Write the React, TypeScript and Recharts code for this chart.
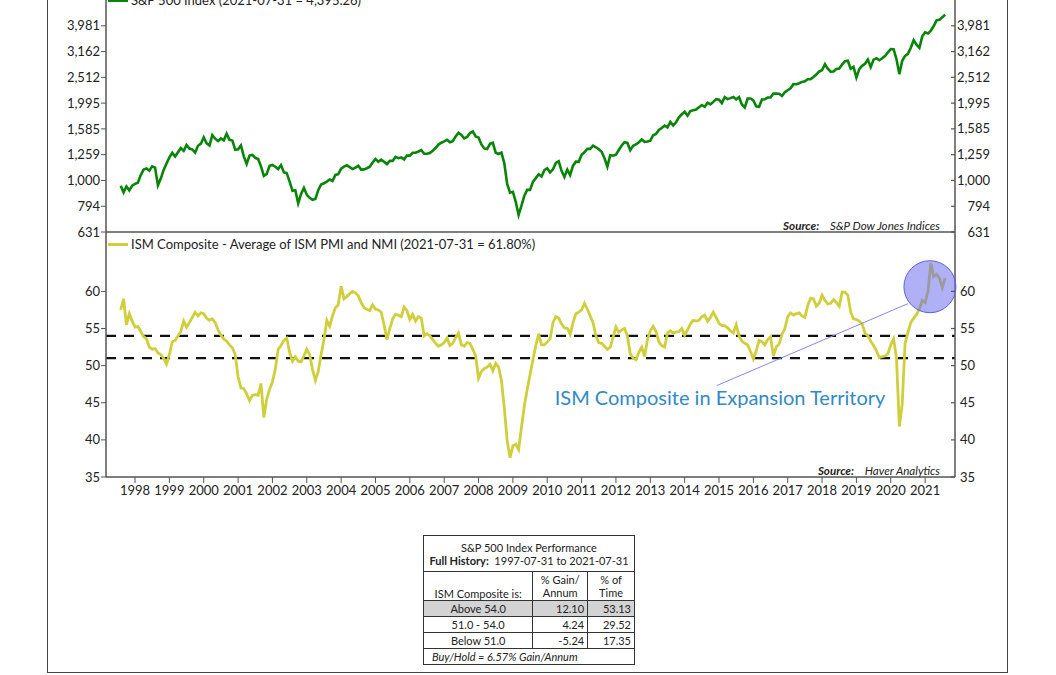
import React from 'react';
import { LineChart, Line, XAxis, YAxis, ReferenceLine, ReferenceDot } from 'recharts';

// month-end observations, first one is 1997-07-31
const START_YEAR = 1997;
const START_MONTH = 7;

const spx = [
  954, 899, 947, 915, 955, 970,
  980, 1049, 1102, 1112, 1091, 1134, 1121, 957, 1017, 1099, 1164, 1229,
  1280, 1238, 1286, 1335, 1302, 1373, 1329, 1320, 1283, 1363, 1389, 1469,
  1394, 1366, 1499, 1452, 1421, 1455, 1431, 1518, 1437, 1429, 1315, 1320,
  1366, 1240, 1160, 1249, 1256, 1224, 1211, 1134, 1041, 1060, 1139, 1148,
  1130, 1107, 1147, 1077, 1067, 990, 912, 916, 815, 886, 936, 880,
  856, 841, 848, 917, 964, 975, 990, 1008, 996, 1051, 1058, 1112,
  1131, 1145, 1126, 1107, 1121, 1141, 1102, 1104, 1115, 1130, 1174, 1212,
  1181, 1204, 1181, 1157, 1192, 1191, 1234, 1220, 1229, 1207, 1249, 1248,
  1280, 1281, 1295, 1311, 1270, 1270, 1277, 1304, 1336, 1378, 1401, 1418,
  1438, 1407, 1421, 1482, 1531, 1503, 1455, 1474, 1527, 1549, 1481, 1468,
  1379, 1331, 1323, 1386, 1400, 1280, 1267, 1283, 1166, 969, 896, 903,
  826, 735, 798, 873, 919, 919, 987, 1021, 1057, 1036, 1096, 1115,
  1074, 1104, 1169, 1187, 1089, 1031, 1102, 1049, 1141, 1183, 1181, 1258,
  1286, 1327, 1326, 1364, 1345, 1321, 1292, 1219, 1131, 1253, 1247, 1258,
  1312, 1366, 1408, 1398, 1310, 1362, 1379, 1407, 1441, 1412, 1416, 1426,
  1498, 1515, 1569, 1598, 1631, 1606, 1686, 1633, 1682, 1757, 1806, 1848,
  1783, 1859, 1872, 1884, 1924, 1960, 1931, 2003, 1972, 2018, 2068, 2059,
  1995, 2105, 2068, 2086, 2107, 2063, 2104, 1972, 1920, 2079, 2080, 2044,
  1940, 1932, 2060, 2065, 2097, 2099, 2174, 2171, 2168, 2126, 2199, 2239,
  2279, 2364, 2363, 2384, 2412, 2423, 2470, 2472, 2519, 2575, 2648, 2674,
  2824, 2714, 2641, 2648, 2705, 2718, 2816, 2902, 2914, 2712, 2760, 2507,
  2704, 2784, 2834, 2946, 2752, 2942, 2980, 2926, 2977, 3038, 3141, 3231,
  3226, 2954, 2585, 2912, 3044, 3100, 3271, 3500, 3363, 3270, 3622, 3756,
  3714, 3811, 3973, 4181, 4204, 4298, 4395,
];

const ism = [
  57.5, 59.0, 55.5, 57.0, 56.0, 55.2,
  55.3, 54.6, 53.9, 53.6, 52.5, 52.2, 52.3, 51.7, 51.5, 51.0, 50.2, 51.5,
  53.2, 53.4, 54.0, 54.6, 56.0, 55.2, 55.8, 56.5, 57.2, 56.7, 57.1, 57.0,
  56.4, 56.1, 56.3, 55.8, 54.8, 54.1, 53.6, 53.3, 52.8, 52.4, 51.5, 48.5,
  47.0, 46.9, 46.2, 45.3, 46.0, 46.1, 46.0, 47.6, 43.0, 45.5, 46.8, 47.8,
  49.5, 52.2, 52.7, 53.4, 53.7, 51.8, 50.6, 51.2, 50.6, 50.5, 51.3, 52.2,
  51.5, 49.5, 48.0, 49.2, 51.5, 53.5, 56.1, 55.3, 56.7, 57.8, 58.2, 60.7,
  59.0, 59.3, 59.7, 60.0, 59.8, 59.4, 58.5, 57.8, 57.6, 57.4, 58.2, 57.6,
  57.5, 57.2, 55.5, 53.5, 55.0, 56.3, 56.9, 56.8, 56.6, 57.9, 57.4, 56.2,
  56.9, 56.0, 56.6, 56.4, 54.0, 54.3, 54.0, 53.5, 53.0, 52.6, 52.8, 53.1,
  53.7, 52.7, 53.0, 53.8, 54.4, 52.8, 52.6, 53.1, 53.0, 52.2, 51.3, 48.3,
  49.2, 49.6, 49.8, 50.2, 49.3, 50.3, 49.8, 48.0, 44.3, 39.9, 37.6, 39.2,
  39.4, 38.7, 41.7, 44.6, 46.8, 48.8, 50.8, 52.7, 54.3, 52.8, 52.8, 53.2,
  53.6, 55.8, 56.6, 56.4, 55.6, 55.1, 55.0, 54.2, 55.8, 57.0, 57.2, 57.5,
  58.4, 57.6, 56.7, 55.8, 54.0, 53.1, 53.0, 52.6, 52.2, 52.5, 53.8, 55.2,
  54.5, 54.8, 55.0, 54.0, 51.6, 51.0, 50.8, 51.8, 52.5, 51.2, 53.5, 54.7,
  55.3, 54.6, 53.2, 52.7, 52.5, 54.4, 54.7, 54.4, 54.5, 54.6, 55.0, 54.1,
  54.8, 55.6, 56.1, 56.0, 56.1, 56.6, 56.8, 56.0, 56.5, 57.2, 56.5, 55.7,
  55.4, 55.4, 55.1, 54.7, 54.4, 55.5, 54.0, 53.3, 53.0, 52.8, 51.9, 50.9,
  52.0, 53.4, 53.2, 52.8, 53.5, 53.9, 51.3, 52.5, 52.9, 54.2, 55.0, 56.6,
  57.1, 56.8, 57.0, 57.1, 56.7, 56.5, 58.1, 59.1, 59.0, 58.0, 58.4, 59.5,
  58.8, 58.3, 58.4, 58.9, 58.5, 58.0, 59.9, 59.9, 59.5, 57.2, 56.3, 56.2,
  56.0, 55.6, 54.4, 54.0, 53.3, 52.7, 52.0, 51.1, 51.2, 51.3, 51.6, 52.8,
  53.6, 51.0, 41.8, 44.8, 53.0, 54.5, 55.8, 56.4, 56.9, 57.6, 58.8, 58.5,
  60.0, 63.8, 62.0, 62.3, 61.8, 60.5, 61.8,
];

const yearTicks = [
  1998, 1999, 2000, 2001, 2002, 2003, 2004, 2005, 2006, 2007, 2008, 2009,
  2010, 2011, 2012, 2013, 2014, 2015, 2016, 2017, 2018, 2019, 2020, 2021,
];
const spxTicks = [631, 794, 1000, 1259, 1585, 1995, 2512, 3162, 3981];
const ismTicks = [35, 40, 45, 50, 55, 60];
const ismLevels = [54, 51];

const tableHead = ['ISM Composite is:', '% Gain/', 'Annum', '% of', 'Time'];
const tableRows = [
  ['Above 54.0', '12.10', '53.13'],
  ['51.0 - 54.0', '4.24', '29.52'],
  ['Below 51.0', '-5.24', '17.35'],
];

const data = spx.map((v, i) => ({
  t: START_YEAR + (START_MONTH + i) / 12,
  spx: v,
  ism: ism[i],
}));

const X_DOMAIN = [1997.155, 2021.87];
const AXIS = '#555';
const FONT = 'Lato, sans-serif';
const tickStyle = { fontFamily: FONT, fontSize: 13, fill: '#222' };

const fmtSpx = (v: number) => v.toLocaleString('en-US');

// right-hand ticks sit inside the plot, label outside
const RightTick = (props: any) => {
  const { x, y, payload, fmt, anchor, dx } = props;
  return (
    <g>
      <line x1={x - 4} x2={x} y1={y} y2={y} stroke={AXIS} strokeWidth={1.2} />
      <text x={x + dx} y={y} dy="0.35em" textAnchor={anchor} style={tickStyle}>
        {fmt ? fmt(payload.value) : payload.value}
      </text>
    </g>
  );
};

const cell: React.CSSProperties = {
  border: '1px solid #333',
  padding: '0 3px',
  lineHeight: '13px',
};

export default function App() {
  return (
    <div
      style={{
        position: 'absolute',
        left: 0,
        top: 0,
        width: 1056,
        height: 675,
        overflow: 'hidden',
        background: '#fff',
        fontFamily: FONT,
        color: '#222',
      }}
    >
      <div
        style={{
          position: 'absolute',
          left: 47,
          top: -10,
          width: 961,
          height: 683,
          boxSizing: 'border-box',
          border: '1.5px solid #444',
        }}
      />

      <div style={{ position: 'absolute', left: 0, top: 0 }}>
        <LineChart width={1056} height={245} data={data} margin={{ top: 0, right: 0, bottom: 12, left: 0 }}>
          <XAxis
            type="number"
            dataKey="t"
            domain={X_DOMAIN}
            allowDataOverflow
            ticks={yearTicks}
            tick={false}
            tickLine={false}
            height={1}
            axisLine={{ stroke: AXIS, strokeWidth: 1.5 }}
          />
          <YAxis
            yAxisId="l"
            orientation="left"
            scale="log"
            domain={[631, 5012]}
            allowDataOverflow
            ticks={spxTicks}
            interval={0}
            tickFormatter={fmtSpx}
            width={106}
            tickSize={5}
            tickMargin={1}
            tick={tickStyle}
            tickLine={{ stroke: AXIS }}
            axisLine={{ stroke: AXIS, strokeWidth: 1.5 }}
          />
          <YAxis
            yAxisId="r"
            orientation="right"
            scale="log"
            domain={[631, 5012]}
            allowDataOverflow
            ticks={spxTicks}
            interval={0}
            width={101}
            tickSize={0}
            tickMargin={0}
            tickLine={false}
            tick={<RightTick fmt={fmtSpx} anchor="end" dx={35} />}
            axisLine={{ stroke: AXIS, strokeWidth: 1.5 }}
          />
          <Line
            yAxisId="l"
            type="linear"
            dataKey="spx"
            stroke="#078507"
            strokeWidth={2.6}
            dot={false}
            isAnimationActive={false}
          />
        </LineChart>
      </div>

      <div style={{ position: 'absolute', left: 0, top: 232 }}>
        <LineChart width={1056} height={275} data={data} margin={{ top: 0, right: 0, bottom: 0, left: 0 }}>
          <XAxis
            type="number"
            dataKey="t"
            domain={X_DOMAIN}
            allowDataOverflow
            ticks={yearTicks}
            interval={0}
            height={30}
            tickSize={6}
            tickMargin={3}
            tick={tickStyle}
            tickLine={{ stroke: AXIS }}
            axisLine={{ stroke: AXIS, strokeWidth: 1.5 }}
          />
          <YAxis
            yAxisId="l"
            orientation="left"
            domain={[35, 68]}
            allowDataOverflow
            ticks={ismTicks}
            interval={0}
            width={106}
            tickSize={5}
            tickMargin={1}
            tick={tickStyle}
            tickLine={{ stroke: AXIS }}
            axisLine={{ stroke: AXIS, strokeWidth: 1.5 }}
          />
          <YAxis
            yAxisId="r"
            orientation="right"
            domain={[35, 68]}
            allowDataOverflow
            ticks={ismTicks}
            interval={0}
            width={101}
            tickSize={0}
            tickMargin={0}
            tickLine={false}
            tick={<RightTick anchor="start" dx={5} />}
            axisLine={{ stroke: AXIS, strokeWidth: 1.5 }}
          />
          {ismLevels.map((lv) => (
            <ReferenceLine
              key={lv}
              yAxisId="l"
              y={lv}
              stroke="#111"
              strokeWidth={2.2}
              strokeDasharray="10 8"
            />
          ))}
          <Line
            yAxisId="l"
            type="linear"
            dataKey="ism"
            stroke="#d0cf3b"
            strokeWidth={2.8}
            dot={false}
            isAnimationActive={false}
          />
          <ReferenceLine
            yAxisId="l"
            segment={[
              { x: 2014.93, y: 47.3 },
              { x: 2020.5, y: 58.35 },
            ]}
            stroke="#8585ff"
            strokeWidth={1}
          />
          <ReferenceDot
            yAxisId="l"
            x={2021.14}
            y={60.63}
            r={26}
            fill="#7070ee"
            fillOpacity={0.55}
            stroke="#5f5fe0"
            strokeWidth={1}
          />
        </LineChart>
      </div>

      {/* legends */}
      <div style={{ position: 'absolute', left: 108, top: -1, width: 20, height: 3, background: '#078507' }} />
      <div style={{ position: 'absolute', left: 131, top: -8, fontSize: 13, lineHeight: '16px', whiteSpace: 'nowrap' }}>
        S&amp;P 500 Index (2021-07-31 = 4,395.26)
      </div>
      <div style={{ position: 'absolute', left: 108, top: 243, width: 20, height: 3, background: '#d0cf3b' }} />
      <div style={{ position: 'absolute', left: 131, top: 236, fontSize: 13, lineHeight: '16px', whiteSpace: 'nowrap' }}>
        ISM Composite - Average of ISM PMI and NMI (2021-07-31 = 61.80%)
      </div>

      {/* sources */}
      <div style={{ position: 'absolute', left: 640, width: 300, top: 219, fontSize: 11.6, lineHeight: '14px', textAlign: 'right', fontStyle: 'italic', whiteSpace: 'pre' }}>
        <b>Source:</b>{'    '}S&amp;P Dow Jones Indices
      </div>
      <div style={{ position: 'absolute', left: 640, width: 300, top: 464, fontSize: 11.6, lineHeight: '14px', textAlign: 'right', fontStyle: 'italic', whiteSpace: 'pre' }}>
        <b>Source:</b>{'    '}Haver Analytics
      </div>

      {/* annotation */}
      <div style={{ position: 'absolute', left: 520, width: 400, top: 385, fontSize: 20, lineHeight: '24px', textAlign: 'center', color: '#3089c9', whiteSpace: 'nowrap' }}>
        ISM Composite in Expansion Territory
      </div>

      {/* performance table */}
      <table
        style={{
          position: 'absolute',
          left: 423,
          top: 535,
          width: 212,
          borderCollapse: 'collapse',
          fontSize: 11,
          fontFamily: FONT,
          color: '#222',
        }}
      >
        <colgroup>
          <col style={{ width: 110 }} />
          <col style={{ width: 55 }} />
          <col style={{ width: 47 }} />
        </colgroup>
        <tbody>
          <tr style={{ height: 36 }}>
            <td colSpan={3} style={{ ...cell, textAlign: 'center' }}>
              S&amp;P 500 Index Performance
              <br />
              <b>Full History:</b>&nbsp;&nbsp;1997-07-31 to 2021-07-31
            </td>
          </tr>
          <tr style={{ height: 29 }}>
            <td style={{ ...cell, textAlign: 'center', verticalAlign: 'bottom' }}>{tableHead[0]}</td>
            <td style={{ ...cell, textAlign: 'center' }}>
              {tableHead[1]}
              <br />
              {tableHead[2]}
            </td>
            <td style={{ ...cell, textAlign: 'center' }}>
              {tableHead[3]}
              <br />
              {tableHead[4]}
            </td>
          </tr>
          {tableRows.map((r, i) => (
            <tr key={r[0]} style={{ height: 16, background: i === 0 ? '#d3d3d3' : undefined }}>
              <td style={{ ...cell, textAlign: 'center' }}>{r[0]}</td>
              <td style={{ ...cell, textAlign: 'right' }}>{r[1]}</td>
              <td style={{ ...cell, textAlign: 'right' }}>{r[2]}</td>
            </tr>
          ))}
          <tr style={{ height: 16 }}>
            <td colSpan={3} style={{ ...cell, fontStyle: 'italic', paddingLeft: 8 }}>
              Buy/Hold = 6.57% Gain/Annum
            </td>
          </tr>
        </tbody>
      </table>
    </div>
  );
}
